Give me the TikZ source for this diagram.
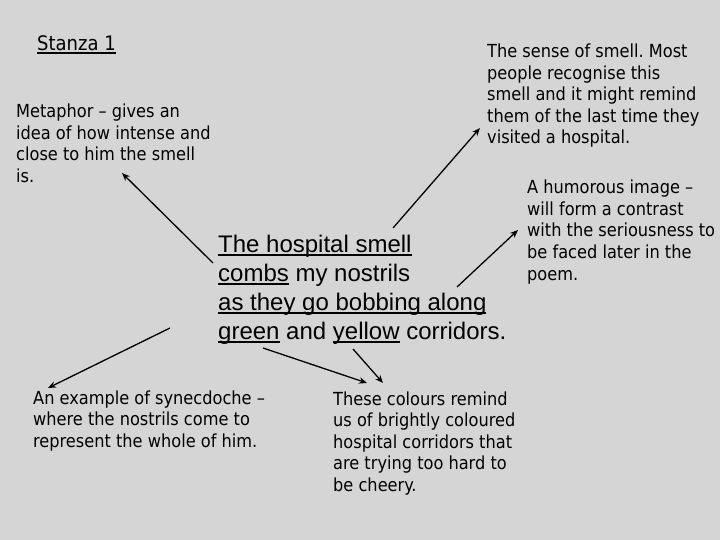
\documentclass[tikz,border=0pt]{standalone}
\usepackage{fontspec}
\setmainfont{Liberation Sans}
\IfFontExistsTF{DejaVu Sans Condensed}%
  {\newfontfamily\notefont{DejaVu Sans Condensed}}%
  {\newfontfamily\notefont{Liberation Sans}}
\usepackage{tikz}
\usetikzlibrary{arrows.meta}
\frenchspacing
\definecolor{slidegray}{RGB}{213,213,213}
\def\ulined#1{\setbox0\hbox{#1}\rlap{\rule[-0.15em]{\wd0}{0.075em}}\box0\relax}
\def\lines#1{\vtop{\halign{##\hfil\cr#1\crcr}}}
\tikzset{note/.style={anchor=base west, inner sep=0pt,
           font=\notefont\fontsize{18}{21.5}\selectfont},
         poem/.style={anchor=base west, inner sep=0pt,
           font=\fontsize{24}{29}\selectfont},
         pointer/.style={draw=black, line width=1.3pt,
           -{Stealth[length=8pt,width=6.5pt]}}
        }

\begin{document}
\begin{tikzpicture}[x=1pt,y=-1pt]
\fill[slidegray] (0,0) rectangle (720,540);
\useasboundingbox (0,0) rectangle (720,540);

\node (Title) [note, font=\notefont\fontsize{20}{24}\selectfont] at (37,51) {\ulined{Stanza 1}};
\node (Metaphor) [note] at (16,118) {\lines{Metaphor – gives an\cr idea of how intense and\cr close to him the smell\cr is.}};
\node (Sense) [note] at (487,58) {\lines{The sense of smell. Most\cr people recognise this\cr smell and it might remind\cr them of the last time they\cr visited a hospital.}};
\node (Humour) [note] at (527,194) {\lines{A humorous image –\cr will form a contrast\cr with the seriousness to\cr be faced later in the\cr poem.}};
\node (Poem) [poem] at (218,252) {\lines{\ulined{The hospital smell}\cr \ulined{combs} my nostrils\cr \ulined{as they go bobbing along}\cr \ulined{green} and \ulined{yellow} corridors.}};
\node (Synecdoche) [note] at (33,404) {\lines{An example of synecdoche –\cr where the nostrils come to\cr represent the whole of him.}};
\node (Colours) [note] at (333,405) {\lines{These colours remind\cr us of brightly coloured\cr hospital corridors that\cr are trying too hard to\cr be cheery.}};

% arrow ends
\coordinate (combs from) at (213,263);
\coordinate (combs to) at (122,173);
\coordinate (smell from) at (393,228);
\coordinate (smell to) at (480,128);
\coordinate (bob from) at (457,287);
\coordinate (bob to) at (518,230);
\coordinate (nose from) at (170,328);
\coordinate (nose to) at (48,388);
\coordinate (green from) at (263,348);
\coordinate (green to) at (367,383);
\coordinate (yellow from) at (353,349);
\coordinate (yellow to) at (383,383);

\foreach \a in {combs,smell,bob,nose,green,yellow}
  \draw[pointer] (\a\space from) -- (\a\space to);
\end{tikzpicture}
\end{document}
